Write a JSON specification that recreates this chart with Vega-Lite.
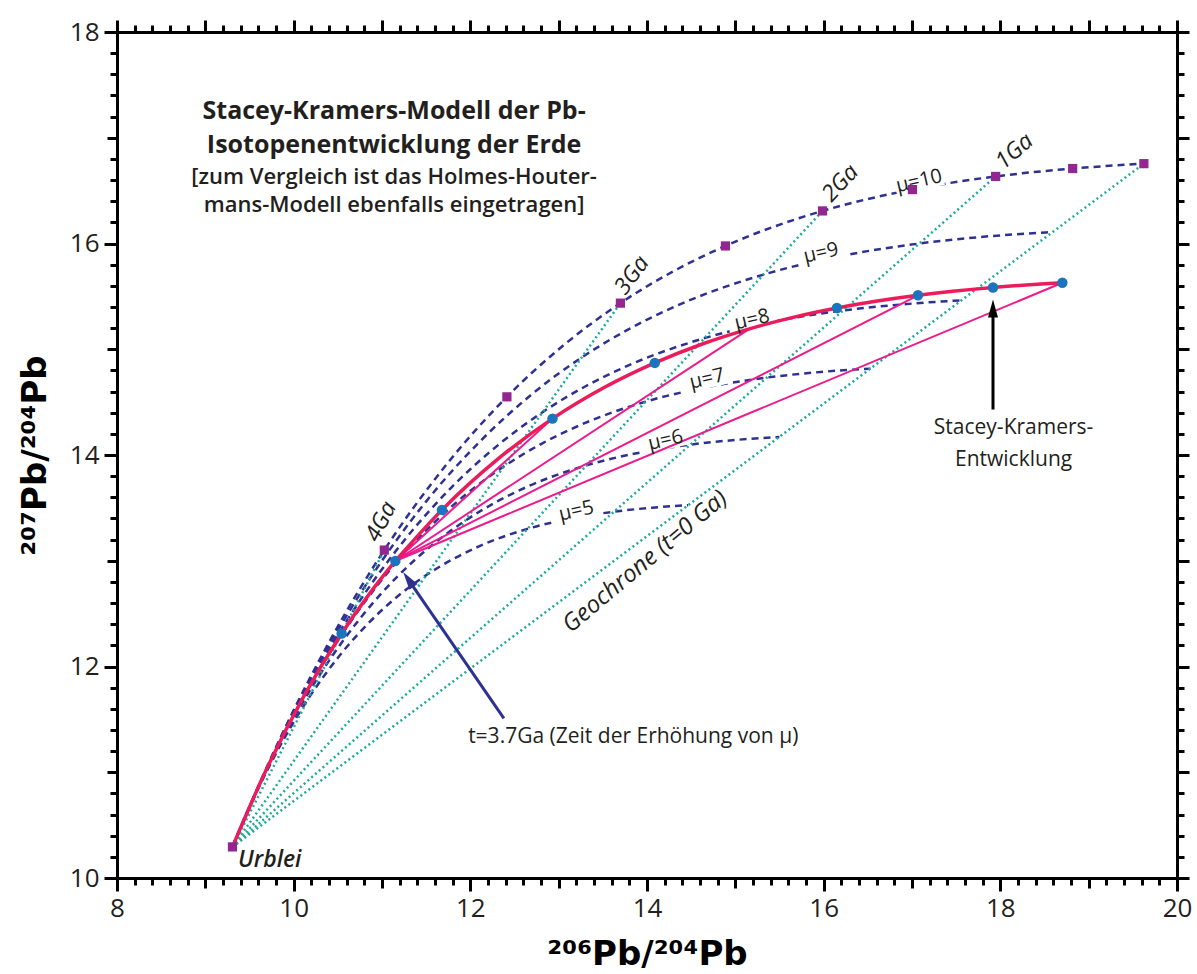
{
  "$schema": "https://vega.github.io/schema/vega-lite/v6.json",
  "width": 1060,
  "height": 846,
  "autosize": {"type": "none"},
  "padding": {"left": 117, "top": 32, "right": 20, "bottom": 96},
  "background": "white",
  "config": {
    "view": {"stroke": null},
    "axis": {"grid": false, "labelFlush": false, "labelOverlap": false, "labelBound": false, "tickColor": "black", "domainColor": "black", "tickWidth": 3, "domainWidth": 3, "tickCap": "butt", "labelFont": "Open Sans", "labelFontSize": 26, "labelColor": "#231f20", "titleColor": "black"}
  },
  "resolve": {"axis": {"x": "independent", "y": "independent"}},
  "datasets": {
    "mu": [
      {"mu": 10, "t": 4.57, "x": 9.307, "y": 10.294}, {"mu": 10, "t": 4.4, "x": 9.836, "y": 11.301}, {"mu": 10, "t": 4.2, "x": 10.440, "y": 12.289}, {"mu": 10, "t": 4.0, "x": 11.026, "y": 13.101}, {"mu": 10, "t": 3.75, "x": 11.734, "y": 13.914}, {"mu": 10, "t": 3.5, "x": 12.414, "y": 14.550}, {"mu": 10, "t": 3.25, "x": 13.069, "y": 15.047}, {"mu": 10, "t": 3.0, "x": 13.699, "y": 15.436}, {"mu": 10, "t": 2.75, "x": 14.305, "y": 15.740}, {"mu": 10, "t": 2.5, "x": 14.888, "y": 15.977}, {"mu": 10, "t": 2.0, "x": 15.987, "y": 16.308}, {"mu": 10, "t": 1.5, "x": 17.005, "y": 16.510}, {"mu": 10, "t": 1.0, "x": 17.947, "y": 16.634}, {"mu": 10, "t": 0.5, "x": 18.819, "y": 16.709}, {"mu": 10, "t": 0, "x": 19.625, "y": 16.755},
      {"mu": 9, "t": 4.57, "x": 9.307, "y": 10.294}, {"mu": 9, "t": 4.4, "x": 9.783, "y": 11.201}, {"mu": 9, "t": 4.2, "x": 10.327, "y": 12.090}, {"mu": 9, "t": 4.0, "x": 10.855, "y": 12.820}, {"mu": 9, "t": 3.75, "x": 11.491, "y": 13.552}, {"mu": 9, "t": 3.5, "x": 12.104, "y": 14.124}, {"mu": 9, "t": 3.25, "x": 12.693, "y": 14.572}, {"mu": 9, "t": 3.0, "x": 13.260, "y": 14.922}, {"mu": 9, "t": 2.75, "x": 13.805, "y": 15.195}, {"mu": 9, "t": 2.5, "x": 14.330, "y": 15.409}, {"mu": 9, "t": 2.0, "x": 15.319, "y": 15.706}, {"mu": 9, "t": 1.5, "x": 16.235, "y": 15.888}, {"mu": 9, "t": 1.0, "x": 17.083, "y": 16.000}, {"mu": 9, "t": 0.5, "x": 17.867, "y": 16.068}, {"mu": 9, "t": 0, "x": 18.593, "y": 16.109},
      {"mu": 8, "t": 4.57, "x": 9.307, "y": 10.294}, {"mu": 8, "t": 4.4, "x": 9.730, "y": 11.100}, {"mu": 8, "t": 4.2, "x": 10.213, "y": 11.890}, {"mu": 8, "t": 4.0, "x": 10.683, "y": 12.539}, {"mu": 8, "t": 3.75, "x": 11.249, "y": 13.190}, {"mu": 8, "t": 3.5, "x": 11.793, "y": 13.699}, {"mu": 8, "t": 3.25, "x": 12.317, "y": 14.096}, {"mu": 8, "t": 3.0, "x": 12.821, "y": 14.407}, {"mu": 8, "t": 2.75, "x": 13.305, "y": 14.650}, {"mu": 8, "t": 2.5, "x": 13.771, "y": 14.840}, {"mu": 8, "t": 2.0, "x": 14.651, "y": 15.105}, {"mu": 8, "t": 1.5, "x": 15.466, "y": 15.267}, {"mu": 8, "t": 1.0, "x": 16.219, "y": 15.366}, {"mu": 8, "t": 0.5, "x": 16.916, "y": 15.426}, {"mu": 8, "t": 0, "x": 17.561, "y": 15.463},
      {"mu": 7, "t": 4.57, "x": 9.307, "y": 10.294}, {"mu": 7, "t": 4.4, "x": 9.677, "y": 10.999}, {"mu": 7, "t": 4.2, "x": 10.100, "y": 11.691}, {"mu": 7, "t": 4.0, "x": 10.511, "y": 12.259}, {"mu": 7, "t": 3.75, "x": 11.006, "y": 12.828}, {"mu": 7, "t": 3.5, "x": 11.482, "y": 13.273}, {"mu": 7, "t": 3.25, "x": 11.941, "y": 13.621}, {"mu": 7, "t": 3.0, "x": 12.381, "y": 13.893}, {"mu": 7, "t": 2.75, "x": 12.805, "y": 14.106}, {"mu": 7, "t": 2.5, "x": 13.213, "y": 14.272}, {"mu": 7, "t": 2.0, "x": 13.983, "y": 14.504}, {"mu": 7, "t": 1.5, "x": 14.696, "y": 14.645}, {"mu": 7, "t": 1.0, "x": 15.355, "y": 14.732}, {"mu": 7, "t": 0.5, "x": 15.965, "y": 14.785}, {"mu": 7, "t": 0, "x": 16.530, "y": 14.817},
      {"mu": 6, "t": 4.57, "x": 9.307, "y": 10.294}, {"mu": 6, "t": 4.4, "x": 9.624, "y": 10.898}, {"mu": 6, "t": 4.2, "x": 9.987, "y": 11.491}, {"mu": 6, "t": 4.0, "x": 10.339, "y": 11.978}, {"mu": 6, "t": 3.75, "x": 10.763, "y": 12.466}, {"mu": 6, "t": 3.5, "x": 11.171, "y": 12.848}, {"mu": 6, "t": 3.25, "x": 11.564, "y": 13.146}, {"mu": 6, "t": 3.0, "x": 11.942, "y": 13.379}, {"mu": 6, "t": 2.75, "x": 12.306, "y": 13.561}, {"mu": 6, "t": 2.5, "x": 12.655, "y": 13.704}, {"mu": 6, "t": 2.0, "x": 13.315, "y": 13.902}, {"mu": 6, "t": 1.5, "x": 13.926, "y": 14.024}, {"mu": 6, "t": 1.0, "x": 14.491, "y": 14.098}, {"mu": 6, "t": 0.5, "x": 15.014, "y": 14.143}, {"mu": 6, "t": 0, "x": 15.498, "y": 14.171},
      {"mu": 5, "t": 4.57, "x": 9.307, "y": 10.294}, {"mu": 5, "t": 4.4, "x": 9.572, "y": 10.798}, {"mu": 5, "t": 4.2, "x": 9.874, "y": 11.292}, {"mu": 5, "t": 4.0, "x": 10.167, "y": 11.697}, {"mu": 5, "t": 3.75, "x": 10.521, "y": 12.104}, {"mu": 5, "t": 3.5, "x": 10.861, "y": 12.422}, {"mu": 5, "t": 3.25, "x": 11.188, "y": 12.671}, {"mu": 5, "t": 3.0, "x": 11.503, "y": 12.865}, {"mu": 5, "t": 2.75, "x": 11.806, "y": 13.017}, {"mu": 5, "t": 2.5, "x": 12.097, "y": 13.136}, {"mu": 5, "t": 2.0, "x": 12.647, "y": 13.301}, {"mu": 5, "t": 1.5, "x": 13.156, "y": 13.402}, {"mu": 5, "t": 1.0, "x": 13.627, "y": 13.464}, {"mu": 5, "t": 0.5, "x": 14.063, "y": 13.502}, {"mu": 5, "t": 0, "x": 14.466, "y": 13.525}
    ],
    "iso": [
      {"age": "4Ga", "x": 9.307, "y": 10.294}, {"age": "4Ga", "x": 11.026, "y": 13.101},
      {"age": "3Ga", "x": 9.307, "y": 10.294}, {"age": "3Ga", "x": 13.699, "y": 15.436},
      {"age": "2Ga", "x": 9.307, "y": 10.294}, {"age": "2Ga", "x": 15.987, "y": 16.308},
      {"age": "1Ga", "x": 9.307, "y": 10.294}, {"age": "1Ga", "x": 17.947, "y": 16.634},
      {"age": "0Ga", "x": 9.307, "y": 10.294}, {"age": "0Ga", "x": 19.625, "y": 16.755}
    ],
    "pink": [
      {"to": "3", "x": 11.151, "y": 12.998}, {"to": "3", "x": 12.930, "y": 14.344},
      {"to": "2", "x": 11.151, "y": 12.998}, {"to": "2", "x": 15.159, "y": 15.193},
      {"to": "1", "x": 11.151, "y": 12.998}, {"to": "1", "x": 17.068, "y": 15.510},
      {"to": "0", "x": 11.151, "y": 12.998}, {"to": "0", "x": 18.702, "y": 15.629}
    ],
    "sk": [
      {"stage": 1, "t": 4.57, "x": 9.307, "y": 10.294}, {"stage": 1, "t": 4.4, "x": 9.687, "y": 11.018}, {"stage": 1, "t": 4.2, "x": 10.122, "y": 11.729}, {"stage": 1, "t": 4.0, "x": 10.543, "y": 12.312}, {"stage": 1, "t": 3.85, "x": 10.851, "y": 12.680}, {"stage": 1, "t": 3.7, "x": 11.151, "y": 12.998},
      {"stage": 2, "t": 3.7, "x": 11.151, "y": 12.998}, {"stage": 2, "t": 3.5, "x": 11.679, "y": 13.481}, {"stage": 2, "t": 3.25, "x": 12.317, "y": 13.965}, {"stage": 2, "t": 3.0, "x": 12.930, "y": 14.344}, {"stage": 2, "t": 2.75, "x": 13.520, "y": 14.640}, {"stage": 2, "t": 2.5, "x": 14.088, "y": 14.871}, {"stage": 2, "t": 2.25, "x": 14.634, "y": 15.052}, {"stage": 2, "t": 2.0, "x": 15.159, "y": 15.193}, {"stage": 2, "t": 1.75, "x": 15.665, "y": 15.304}, {"stage": 2, "t": 1.5, "x": 16.150, "y": 15.390}, {"stage": 2, "t": 1.0, "x": 17.068, "y": 15.510}, {"stage": 2, "t": 0.5, "x": 17.917, "y": 15.584}, {"stage": 2, "t": 0, "x": 18.702, "y": 15.629}
    ],
    "dots": [
      {"t": 4.0, "x": 10.543, "y": 12.312}, {"t": 3.7, "x": 11.151, "y": 12.998}, {"t": 3.5, "x": 11.679, "y": 13.481}, {"t": 3.0, "x": 12.930, "y": 14.344}, {"t": 2.5, "x": 14.088, "y": 14.871}, {"t": 1.5, "x": 16.150, "y": 15.390}, {"t": 1.0, "x": 17.068, "y": 15.510}, {"t": 0.5, "x": 17.917, "y": 15.584}, {"t": 0, "x": 18.702, "y": 15.629}
    ],
    "squares": [
      {"t": 4.57, "x": 9.307, "y": 10.294}, {"t": 4.0, "x": 11.026, "y": 13.101}, {"t": 3.5, "x": 12.414, "y": 14.550}, {"t": 3.0, "x": 13.699, "y": 15.436}, {"t": 2.5, "x": 14.888, "y": 15.977}, {"t": 2.0, "x": 15.987, "y": 16.308}, {"t": 1.5, "x": 17.005, "y": 16.510}, {"t": 1.0, "x": 17.947, "y": 16.634}, {"t": 0.5, "x": 18.819, "y": 16.709}, {"t": 0, "x": 19.625, "y": 16.755}
    ],
    "mulab": [
      {"label": "μ=10", "x": 17.08, "y": 16.59}, {"label": "μ=9", "x": 15.97, "y": 15.91}, {"label": "μ=8", "x": 15.19, "y": 15.28}, {"label": "μ=7", "x": 14.68, "y": 14.72}, {"label": "μ=6", "x": 14.21, "y": 14.14}, {"label": "μ=5", "x": 13.20, "y": 13.47}
    ],
    "galab": [
      {"label": "4Ga", "x": 10.99, "y": 13.37}, {"label": "3Ga", "x": 13.83, "y": 15.70}, {"label": "2Ga", "x": 16.19, "y": 16.57}, {"label": "1Ga", "x": 18.16, "y": 16.87}
    ],
    "notes": [
      {"id": "h1", "text": "Stacey-Kramers-Modell der Pb-", "x": 11.137, "y": 17.25},
      {"id": "h1", "text": "Isotopenentwicklung der Erde", "x": 11.137, "y": 16.93},
      {"id": "h2", "text": "[zum Vergleich ist das Holmes-Houter-", "x": 11.137, "y": 16.625},
      {"id": "h2", "text": "mans-Modell ebenfalls eingetragen]", "x": 11.137, "y": 16.365},
      {"id": "geo", "text": "Geochrone (t=0 Ga)", "x": 13.98, "y": 12.99},
      {"id": "urb", "text": "Urblei", "x": 9.37, "y": 10.17},
      {"id": "t37", "text": "t=3.7Ga (Zeit der Erhöhung von μ)", "x": 11.975, "y": 11.333},
      {"id": "sk", "text": "Stacey-Kramers-", "x": 18.15, "y": 14.255},
      {"id": "sk", "text": "Entwicklung", "x": 18.15, "y": 13.95}
    ],
    "arrows": [
      {"id": "black", "x": 17.917, "y": 14.43, "x2": 17.917, "y2": 15.40},
      {"id": "navy", "x": 12.38, "y": 11.51, "x2": 11.30, "y2": 12.82}
    ],
    "heads": [
      {"id": "black", "x": 17.917, "y": 15.385},
      {"id": "navy", "x": 11.298, "y": 12.824}
    ]
  },
  "layer": [
    {
      "data": {"name": "mu"},
      "mark": {"type": "line", "interpolate": "monotone", "stroke": "#2E3192", "strokeWidth": 2.5, "strokeDash": [7, 5]},
      "encoding": {
        "x": {"field": "x", "type": "quantitative", "scale": {"domain": [8, 20], "nice": false, "zero": false},
              "axis": {"orient": "bottom", "values": [8, 10, 12, 14, 16, 18, 20], "tickSize": 13, "labelPadding": 4, "domain": true, "title": "²⁰⁶Pb/²⁰⁴Pb", "titleFont": "DejaVu Sans", "titleFontSize": 34, "titleFontWeight": "bold", "titleY": 86, "titleBaseline": "alphabetic"}},
        "y": {"field": "y", "type": "quantitative", "scale": {"domain": [10, 18], "nice": false, "zero": false},
              "axis": {"orient": "left", "values": [10, 12, 14, 16, 18], "tickSize": 13, "labelPadding": 5, "domain": true, "title": "²⁰⁷Pb/²⁰⁴Pb", "titleFont": "DejaVu Sans", "titleFontSize": 34, "titleFontWeight": "bold", "titleX": -72, "titleBaseline": "alphabetic", "titleAngle": 270}},
        "detail": {"field": "mu", "type": "nominal"}
      }
    },
    {
      "data": {"name": "mulab"},
      "mark": {"type": "point", "shape": "M-1,-0.38H1V0.38H-1Z", "filled": true, "fill": "white", "opacity": 1, "strokeWidth": 0, "size": 2400, "angle": 347},
      "encoding": {
        "x": {"field": "x", "type": "quantitative", "scale": {"domain": [8, 20], "nice": false, "zero": false}, "axis": null},
        "y": {"field": "y", "type": "quantitative", "scale": {"domain": [10, 18], "nice": false, "zero": false}, "axis": null}
      }
    },
    {
      "data": {"name": "iso"},
      "mark": {"type": "line", "stroke": "#1FA99B", "strokeWidth": 2.5, "strokeDash": [2, 3]},
      "encoding": {
        "x": {"field": "x", "type": "quantitative", "scale": {"domain": [8, 20], "nice": false, "zero": false},
              "axis": {"orient": "bottom", "values": [9, 11, 13, 15, 17, 19], "tickSize": 10, "labels": false, "domain": false, "title": null}},
        "y": {"field": "y", "type": "quantitative", "scale": {"domain": [10, 18], "nice": false, "zero": false},
              "axis": {"orient": "left", "values": [11, 13, 15, 17], "tickSize": 10, "labels": false, "domain": false, "title": null}},
        "detail": {"field": "age", "type": "nominal"}
      }
    },
    {
      "data": {"name": "pink"},
      "mark": {"type": "line", "stroke": "#EC1A8B", "strokeWidth": 2},
      "encoding": {
        "x": {"field": "x", "type": "quantitative", "scale": {"domain": [8, 20], "nice": false, "zero": false},
              "axis": {"orient": "bottom", "values": [8.2, 8.4, 8.6, 8.8, 9.2, 9.4, 9.6, 9.8, 10.2, 10.4, 10.6, 10.8, 11.2, 11.4, 11.6, 11.8, 12.2, 12.4, 12.6, 12.8, 13.2, 13.4, 13.6, 13.8, 14.2, 14.4, 14.6, 14.8, 15.2, 15.4, 15.6, 15.8, 16.2, 16.4, 16.6, 16.8, 17.2, 17.4, 17.6, 17.8, 18.2, 18.4, 18.6, 18.8, 19.2, 19.4, 19.6, 19.8], "tickSize": 7, "labels": false, "domain": false, "title": null}},
        "y": {"field": "y", "type": "quantitative", "scale": {"domain": [10, 18], "nice": false, "zero": false},
              "axis": {"orient": "left", "values": [10.2, 10.4, 10.6, 10.8, 11.2, 11.4, 11.6, 11.8, 12.2, 12.4, 12.6, 12.8, 13.2, 13.4, 13.6, 13.8, 14.2, 14.4, 14.6, 14.8, 15.2, 15.4, 15.6, 15.8, 16.2, 16.4, 16.6, 16.8, 17.2, 17.4, 17.6, 17.8], "tickSize": 7, "labels": false, "domain": false, "title": null}},
        "detail": {"field": "to", "type": "nominal"}
      }
    },
    {
      "data": {"name": "sk"},
      "mark": {"type": "line", "interpolate": "monotone", "stroke": "#EC1C5B", "strokeWidth": 3.5},
      "encoding": {
        "x": {"field": "x", "type": "quantitative", "scale": {"domain": [8, 20], "nice": false, "zero": false},
              "axis": {"orient": "top", "values": [8, 9, 10, 11, 12, 13, 14, 15, 16, 17, 18, 19, 20], "tickSize": 12, "labels": false, "domain": true, "title": null}},
        "y": {"field": "y", "type": "quantitative", "scale": {"domain": [10, 18], "nice": false, "zero": false},
              "axis": {"orient": "right", "values": [10, 11, 12, 13, 14, 15, 16, 17, 18], "tickSize": 12, "labels": false, "domain": true, "title": null}},
        "detail": {"field": "stage", "type": "nominal"}
      }
    },
    {
      "data": {"name": "dots"},
      "mark": {"type": "point", "shape": "circle", "filled": true, "fill": "#1C75BC", "opacity": 1, "size": 110},
      "encoding": {
        "x": {"field": "x", "type": "quantitative", "scale": {"domain": [8, 20], "nice": false, "zero": false}, "axis": null},
        "y": {"field": "y", "type": "quantitative", "scale": {"domain": [10, 18], "nice": false, "zero": false}, "axis": null}
      }
    },
    {
      "data": {"name": "squares"},
      "mark": {"type": "point", "shape": "square", "filled": true, "fill": "#92278F", "opacity": 1, "size": 85},
      "encoding": {
        "x": {"field": "x", "type": "quantitative", "scale": {"domain": [8, 20], "nice": false, "zero": false},
              "axis": {"orient": "top", "values": [8.2, 8.4, 8.6, 8.8, 9.2, 9.4, 9.6, 9.8, 10.2, 10.4, 10.6, 10.8, 11.2, 11.4, 11.6, 11.8, 12.2, 12.4, 12.6, 12.8, 13.2, 13.4, 13.6, 13.8, 14.2, 14.4, 14.6, 14.8, 15.2, 15.4, 15.6, 15.8, 16.2, 16.4, 16.6, 16.8, 17.2, 17.4, 17.6, 17.8, 18.2, 18.4, 18.6, 18.8, 19.2, 19.4, 19.6, 19.8], "tickSize": 7, "labels": false, "domain": false, "title": null}},
        "y": {"field": "y", "type": "quantitative", "scale": {"domain": [10, 18], "nice": false, "zero": false},
              "axis": {"orient": "right", "values": [10.2, 10.4, 10.6, 10.8, 11.2, 11.4, 11.6, 11.8, 12.2, 12.4, 12.6, 12.8, 13.2, 13.4, 13.6, 13.8, 14.2, 14.4, 14.6, 14.8, 15.2, 15.4, 15.6, 15.8, 16.2, 16.4, 16.6, 16.8, 17.2, 17.4, 17.6, 17.8], "tickSize": 7, "labels": false, "domain": false, "title": null}}
      }
    },
    {
      "data": {"name": "mulab"},
      "mark": {"type": "text", "angle": 347, "font": "Open Sans", "fontSize": 20, "color": "#231f20", "align": "center", "baseline": "middle"},
      "encoding": {
        "x": {"field": "x", "type": "quantitative", "scale": {"domain": [8, 20], "nice": false, "zero": false}, "axis": null},
        "y": {"field": "y", "type": "quantitative", "scale": {"domain": [10, 18], "nice": false, "zero": false}, "axis": null},
        "text": {"field": "label", "type": "nominal"}
      }
    },
    {
      "data": {"name": "galab"},
      "transform": [{"filter": "datum.label === '4Ga'"}],
      "mark": {"type": "text", "angle": 297, "font": "Open Sans", "fontStyle": "italic", "fontSize": 23, "color": "#231f20", "align": "center", "baseline": "middle"},
      "encoding": {
        "x": {"field": "x", "type": "quantitative", "scale": {"domain": [8, 20], "nice": false, "zero": false}, "axis": null},
        "y": {"field": "y", "type": "quantitative", "scale": {"domain": [10, 18], "nice": false, "zero": false}, "axis": null},
        "text": {"field": "label", "type": "nominal"}
      }
    },
    {
      "data": {"name": "galab"},
      "transform": [{"filter": "datum.label === '3Ga'"}],
      "mark": {"type": "text", "angle": 306, "font": "Open Sans", "fontStyle": "italic", "fontSize": 23, "color": "#231f20", "align": "center", "baseline": "middle"},
      "encoding": {
        "x": {"field": "x", "type": "quantitative", "scale": {"domain": [8, 20], "nice": false, "zero": false}, "axis": null},
        "y": {"field": "y", "type": "quantitative", "scale": {"domain": [10, 18], "nice": false, "zero": false}, "axis": null},
        "text": {"field": "label", "type": "nominal"}
      }
    },
    {
      "data": {"name": "galab"},
      "transform": [{"filter": "datum.label === '2Ga'"}],
      "mark": {"type": "text", "angle": 313, "font": "Open Sans", "fontStyle": "italic", "fontSize": 23, "color": "#231f20", "align": "center", "baseline": "middle"},
      "encoding": {
        "x": {"field": "x", "type": "quantitative", "scale": {"domain": [8, 20], "nice": false, "zero": false}, "axis": null},
        "y": {"field": "y", "type": "quantitative", "scale": {"domain": [10, 18], "nice": false, "zero": false}, "axis": null},
        "text": {"field": "label", "type": "nominal"}
      }
    },
    {
      "data": {"name": "galab"},
      "transform": [{"filter": "datum.label === '1Ga'"}],
      "mark": {"type": "text", "angle": 319, "font": "Open Sans", "fontStyle": "italic", "fontSize": 23, "color": "#231f20", "align": "center", "baseline": "middle"},
      "encoding": {
        "x": {"field": "x", "type": "quantitative", "scale": {"domain": [8, 20], "nice": false, "zero": false}, "axis": null},
        "y": {"field": "y", "type": "quantitative", "scale": {"domain": [10, 18], "nice": false, "zero": false}, "axis": null},
        "text": {"field": "label", "type": "nominal"}
      }
    },
    {
      "data": {"name": "notes"},
      "transform": [{"filter": "datum.id === 'h1'"}],
      "mark": {"type": "text", "font": "Open Sans", "fontWeight": "bold", "fontSize": 25, "color": "#231f20", "align": "center", "baseline": "middle"},
      "encoding": {
        "x": {"field": "x", "type": "quantitative", "scale": {"domain": [8, 20], "nice": false, "zero": false}, "axis": null},
        "y": {"field": "y", "type": "quantitative", "scale": {"domain": [10, 18], "nice": false, "zero": false}, "axis": null},
        "text": {"field": "text", "type": "nominal"}
      }
    },
    {
      "data": {"name": "notes"},
      "transform": [{"filter": "datum.id === 'h2'"}],
      "mark": {"type": "text", "font": "Open Sans", "fontWeight": 600, "fontSize": 22, "color": "#231f20", "align": "center", "baseline": "middle"},
      "encoding": {
        "x": {"field": "x", "type": "quantitative", "scale": {"domain": [8, 20], "nice": false, "zero": false}, "axis": null},
        "y": {"field": "y", "type": "quantitative", "scale": {"domain": [10, 18], "nice": false, "zero": false}, "axis": null},
        "text": {"field": "text", "type": "nominal"}
      }
    },
    {
      "data": {"name": "notes"},
      "transform": [{"filter": "datum.id === 'geo'"}],
      "mark": {"type": "text", "angle": 320, "font": "Open Sans", "fontStyle": "italic", "fontSize": 24, "color": "#231f20", "align": "center", "baseline": "middle"},
      "encoding": {
        "x": {"field": "x", "type": "quantitative", "scale": {"domain": [8, 20], "nice": false, "zero": false}, "axis": null},
        "y": {"field": "y", "type": "quantitative", "scale": {"domain": [10, 18], "nice": false, "zero": false}, "axis": null},
        "text": {"field": "text", "type": "nominal"}
      }
    },
    {
      "data": {"name": "notes"},
      "transform": [{"filter": "datum.id === 'urb'"}],
      "mark": {"type": "text", "font": "Open Sans", "fontStyle": "italic", "fontWeight": 600, "fontSize": 23, "color": "#231f20", "align": "left", "baseline": "middle"},
      "encoding": {
        "x": {"field": "x", "type": "quantitative", "scale": {"domain": [8, 20], "nice": false, "zero": false}, "axis": null},
        "y": {"field": "y", "type": "quantitative", "scale": {"domain": [10, 18], "nice": false, "zero": false}, "axis": null},
        "text": {"field": "text", "type": "nominal"}
      }
    },
    {
      "data": {"name": "notes"},
      "transform": [{"filter": "datum.id === 't37'"}],
      "mark": {"type": "text", "font": "Open Sans", "fontSize": 21, "color": "#231f20", "align": "left", "baseline": "middle"},
      "encoding": {
        "x": {"field": "x", "type": "quantitative", "scale": {"domain": [8, 20], "nice": false, "zero": false}, "axis": null},
        "y": {"field": "y", "type": "quantitative", "scale": {"domain": [10, 18], "nice": false, "zero": false}, "axis": null},
        "text": {"field": "text", "type": "nominal"}
      }
    },
    {
      "data": {"name": "notes"},
      "transform": [{"filter": "datum.id === 'sk'"}],
      "mark": {"type": "text", "font": "Open Sans", "fontSize": 21, "color": "#231f20", "align": "center", "baseline": "middle"},
      "encoding": {
        "x": {"field": "x", "type": "quantitative", "scale": {"domain": [8, 20], "nice": false, "zero": false}, "axis": null},
        "y": {"field": "y", "type": "quantitative", "scale": {"domain": [10, 18], "nice": false, "zero": false}, "axis": null},
        "text": {"field": "text", "type": "nominal"}
      }
    },
    {
      "data": {"name": "arrows"},
      "transform": [{"filter": "datum.id === 'black'"}],
      "mark": {"type": "rule", "stroke": "black", "strokeWidth": 3},
      "encoding": {
        "x": {"field": "x", "type": "quantitative", "scale": {"domain": [8, 20], "nice": false, "zero": false}, "axis": null},
        "y": {"field": "y", "type": "quantitative", "scale": {"domain": [10, 18], "nice": false, "zero": false}, "axis": null},
        "x2": {"field": "x2"},
        "y2": {"field": "y2"}
      }
    },
    {
      "data": {"name": "arrows"},
      "transform": [{"filter": "datum.id === 'navy'"}],
      "mark": {"type": "rule", "stroke": "#2E3192", "strokeWidth": 3},
      "encoding": {
        "x": {"field": "x", "type": "quantitative", "scale": {"domain": [8, 20], "nice": false, "zero": false}, "axis": null},
        "y": {"field": "y", "type": "quantitative", "scale": {"domain": [10, 18], "nice": false, "zero": false}, "axis": null},
        "x2": {"field": "x2"},
        "y2": {"field": "y2"}
      }
    },
    {
      "data": {"name": "heads"},
      "transform": [{"filter": "datum.id === 'black'"}],
      "mark": {"type": "point", "shape": "M0,-1L0.55,1L-0.55,1Z", "filled": true, "fill": "black", "opacity": 1, "strokeWidth": 0, "size": 330, "angle": 0},
      "encoding": {
        "x": {"field": "x", "type": "quantitative", "scale": {"domain": [8, 20], "nice": false, "zero": false}, "axis": null},
        "y": {"field": "y", "type": "quantitative", "scale": {"domain": [10, 18], "nice": false, "zero": false}, "axis": null}
      }
    },
    {
      "data": {"name": "heads"},
      "transform": [{"filter": "datum.id === 'navy'"}],
      "mark": {"type": "point", "shape": "M0,-1L0.55,1L-0.55,1Z", "filled": true, "fill": "#2E3192", "opacity": 1, "strokeWidth": 0, "size": 330, "angle": 325},
      "encoding": {
        "x": {"field": "x", "type": "quantitative", "scale": {"domain": [8, 20], "nice": false, "zero": false}, "axis": null},
        "y": {"field": "y", "type": "quantitative", "scale": {"domain": [10, 18], "nice": false, "zero": false}, "axis": null}
      }
    }
  ]
}
